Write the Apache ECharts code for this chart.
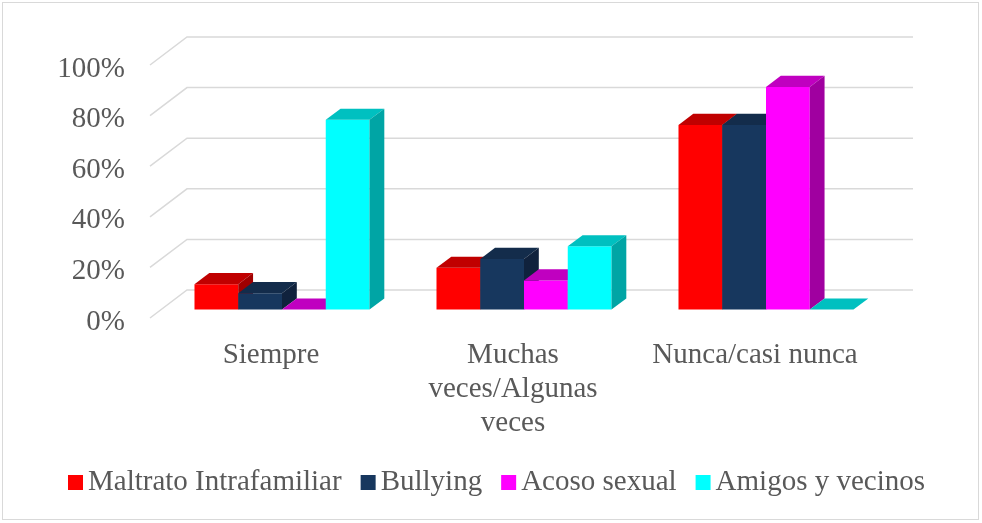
<!DOCTYPE html>
<html>
<head>
<meta charset="utf-8">
<script src="https://cdn.jsdelivr.net/npm/echarts@6/dist/echarts.min.js"></script>
<style>
  html, body { margin: 0; padding: 0; background: #fff; }
  #wrap { position: relative; width: 982px; height: 523px; }
  #main { width: 982px; height: 523px; }
  #frame { position: absolute; left: 2px; top: 2px; width: 975px; height: 516px;
           border: 1.5px solid #d9d9d9; pointer-events: none; }
</style>
</head>
<body>
<div id="wrap"><div id="main"></div><div id="frame"></div></div>
<script>
// data
var categorias = ["Siempre", "Muchas\nveces/Algunas\nveces", "Nunca/casi nunca"];
var series_names = ["Maltrato Intrafamiliar", "Bullying", "Acoso sexual", "Amigos y vecinos"];
var maltrato = [10, 16.5, 73];
var bullying = [6.5, 20, 73];
var acoso = [0, 11.5, 88];
var amigos = [75, 25, 0];
var ticks = [0, 20, 40, 60, 80, 100];

// colors: front, top, side
var colores = [
  ["#FF0000", "#C00000", "#A00000"],
  ["#17375E", "#132C4B", "#10223D"],
  ["#FF00FF", "#C000C0", "#A000A0"],
  ["#00FFFF", "#00C0C0", "#00A5A5"]
];

// oblique "3D" offsets in px
var WALL_DX = 37, WALL_DY = -28;
var FRONT_DX = 11, FRONT_DY = -8.4;
var DEPTH_DX = 14.8, DEPTH_DY = -11.2;
var BAR_W = 0.1808; // share of category band

var FONT = "Liberation Serif";
var TXT = "#595959";

function wallItem(params, api) {
  var cs = params.coordSys;
  var p = api.coord([0, api.value(0)]);
  var x0 = cs.x, x1 = cs.x + cs.width, y = p[1];
  return {
    type: "polyline",
    shape: { points: [[x0, y], [x0 + WALL_DX, y + WALL_DY], [x1 + WALL_DX, y + WALL_DY]] },
    style: { stroke: "#d9d9d9", lineWidth: 1.5, fill: null }
  };
}

function barRenderer(slot) {
  var c = colores[slot];
  return function (params, api) {
    var cat = api.value(0), val = api.value(1);
    var top = api.coord([cat, val]);
    var base = api.coord([cat, 0]);
    var band = api.size([1, 0])[0];
    var w = band * BAR_W;
    var x0 = top[0] - 2 * w + slot * w + FRONT_DX;
    var x1 = x0 + w;
    var yT = top[1] + FRONT_DY;
    var yB = base[1] + FRONT_DY;
    return {
      type: "group",
      children: [
        { type: "polygon",
          shape: { points: [[x0, yT], [x1, yT], [x1, yB], [x0, yB]] },
          style: { fill: c[0] } },
        { type: "polygon",
          shape: { points: [[x0, yT], [x1, yT], [x1 + DEPTH_DX, yT + DEPTH_DY], [x0 + DEPTH_DX, yT + DEPTH_DY]] },
          style: { fill: c[1] } },
        { type: "polygon",
          shape: { points: [[x1, yT], [x1 + DEPTH_DX, yT + DEPTH_DY], [x1 + DEPTH_DX, yB + DEPTH_DY], [x1, yB]] },
          style: { fill: c[2] } }
      ]
    };
  };
}

var valores = [maltrato, bullying, acoso, amigos];
var barSeries = valores.map(function (arr, i) {
  return {
    type: "custom",
    name: series_names[i],
    color: colores[i][0],
    renderItem: barRenderer(i),
    data: arr.map(function (v, k) { return [k, v]; }),
    encode: { x: 0, y: 1 },
    z: 3
  };
});

var option = {
  animation: false,
  grid: { left: 150, right: 106, top: 65, bottom: 205 },
  xAxis: {
    type: "category",
    data: categorias,
    axisLine: { show: false },
    axisTick: { show: false },
    axisLabel: {
      interval: 0, margin: 20,
      fontFamily: FONT, fontSize: 29, color: TXT, lineHeight: 34
    }
  },
  yAxis: {
    type: "value", min: 0, max: 100, interval: 20,
    axisLine: { show: false },
    axisTick: { show: false },
    splitLine: { show: false },
    axisLabel: {
      margin: 25, formatter: "{value}%",
      verticalAlign: "top", lineHeight: 8,
      fontFamily: FONT, fontSize: 29, color: TXT
    }
  },
  legend: {
    data: series_names,
    bottom: 21, left: 63,
    icon: "rect", itemWidth: 15, itemHeight: 15, itemGap: 19,
    textStyle: { fontFamily: FONT, fontSize: 29, color: TXT }
  },
  series: [{
    type: "custom",
    name: "wall",
    silent: true,
    renderItem: wallItem,
    data: ticks.map(function (t) { return [t]; }),
    encode: { y: 0 },
    z: 1
  }].concat(barSeries)
};

var chart = echarts.init(document.getElementById("main"));
chart.setOption(option);
</script>
</body>
</html>
